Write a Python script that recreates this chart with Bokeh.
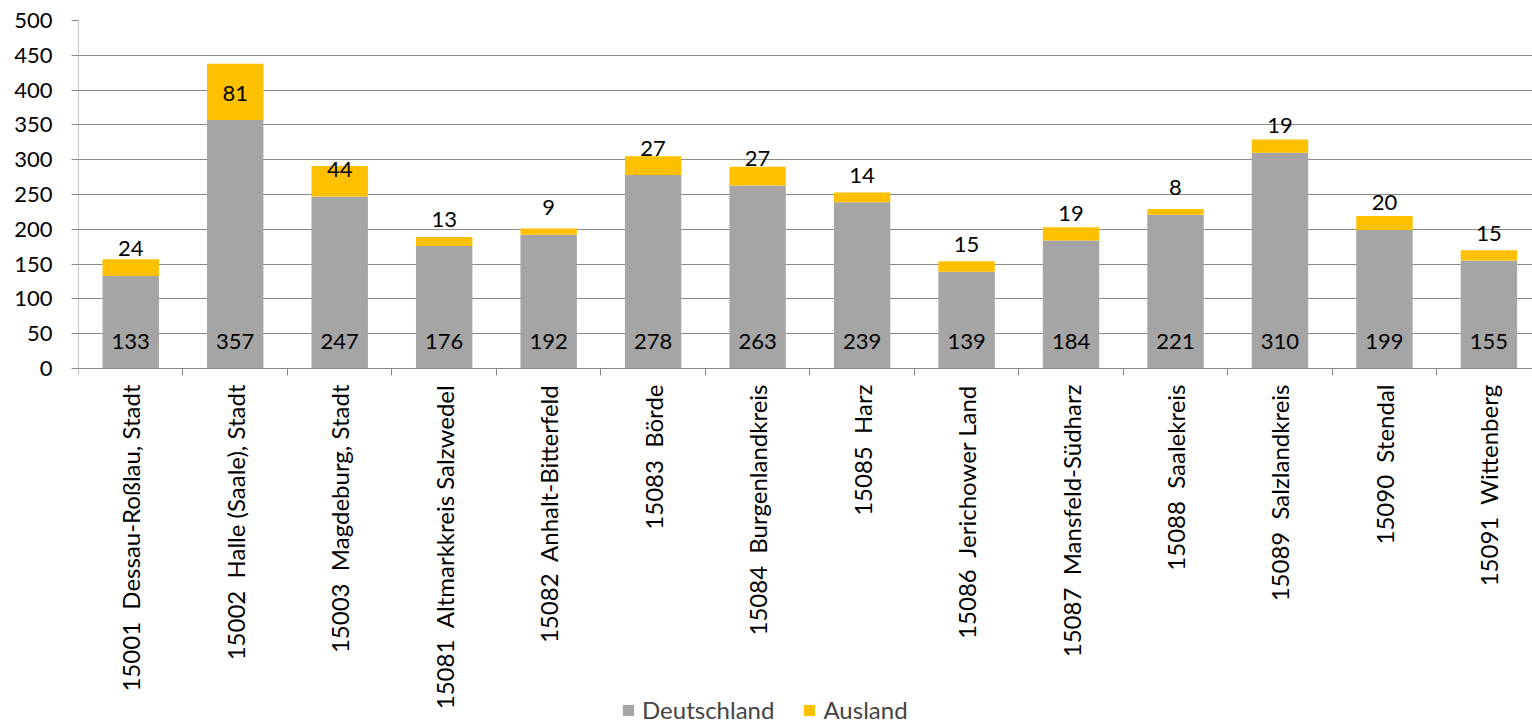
import math
from bokeh.plotting import figure
from bokeh.models import (Range1d, FixedTicker, Legend, LegendItem, ColumnDataSource)
from bokeh.core.properties import value
from bokeh.embed import file_html
from bokeh.resources import INLINE

# ---- data ----
categories = [
    "15001\u00a0 Dessau-Roßlau, Stadt",
    "15002\u00a0 Halle (Saale), Stadt",
    "15003\u00a0 Magdeburg, Stadt",
    "15081\u00a0 Altmarkkreis Salzwedel",
    "15082\u00a0 Anhalt-Bitterfeld",
    "15083\u00a0 Börde",
    "15084\u00a0 Burgenlandkreis",
    "15085\u00a0 Harz",
    "15086\u00a0 Jerichower Land",
    "15087\u00a0 Mansfeld-Südharz",
    "15088\u00a0 Saalekreis",
    "15089\u00a0 Salzlandkreis",
    "15090\u00a0 Stendal",
    "15091\u00a0 Wittenberg",
]
deutschland = [133, 357, 247, 176, 192, 278, 263, 239, 139, 184, 221, 310, 199, 155]
ausland = [24, 81, 44, 13, 9, 27, 27, 14, 15, 19, 8, 19, 20, 15]
y_ticks = [0, 50, 100, 150, 200, 250, 300, 350, 400, 450, 500]

FONT = "Lato"
GRAY = "#A5A5A5"
YELLOW = "#FFC000"
GRID = "#8A8A8A"

n = len(categories)
centers = [i + 0.5 for i in range(n)]
bounds = list(range(n + 1))
totals = [d + a for d, a in zip(deutschland, ausland)]

# plot area: value axis occupies the top 348 px of a 704 px frame;
# the lower part of the frame holds the category labels and the legend
PLOT_PX, FRAME_PX = 348, 704
y_top = y_ticks[-1]
y_bottom = -y_top * (FRAME_PX - PLOT_PX) / PLOT_PX

p = figure(
    frame_width=1454, frame_height=FRAME_PX,
    x_range=Range1d(0, 13.917), y_range=Range1d(y_bottom, y_top),
    output_backend="svg", toolbar_location=None,
    min_border_left=78, min_border_right=0, min_border_top=20, min_border_bottom=0,
)
p.outline_line_color = None
p.background_fill_color = "white"
p.border_fill_color = "white"

src = ColumnDataSource(dict(
    x=centers, d=deutschland, a=ausland, t=totals, zero=[0] * n,
    dl=[str(v) for v in deutschland], al=[str(v) for v in ausland],
))

# grid
p.xgrid.grid_line_color = None
p.ygrid.ticker = FixedTicker(ticks=y_ticks)
p.ygrid.grid_line_color = GRID
p.ygrid.grid_line_width = 1

r1 = p.vbar(x="x", bottom="zero", top="d", width=0.54, source=src,
            fill_color=GRAY, line_color=None)
r2 = p.vbar(x="x", bottom="d", top="t", width=0.54, source=src,
            fill_color=YELLOW, line_color=None)

p.text(x="x", y="zero", text="dl", source=src, text_align="center",
       text_baseline="middle", y_offset=-27, text_font=value(FONT),
       text_font_size="22px", text_color="black")
p.text(x="x", y="d", text="al", source=src, text_align="center",
       text_baseline="middle", y_offset=-27, text_font=value(FONT),
       text_font_size="22px", text_color="black")

# vertical value-axis line, only over the value span
p.segment(x0=[0], y0=[y_ticks[0]], x1=[0], y1=[y_top], line_color=GRID, line_width=1)

# y axis
p.yaxis.ticker = FixedTicker(ticks=y_ticks)
p.yaxis.axis_line_color = None
p.yaxis.major_tick_line_color = GRID
p.yaxis.major_tick_out = 7
p.yaxis.major_tick_in = 0
p.yaxis.minor_tick_line_color = None
p.yaxis.major_label_standoff = 19
p.yaxis.major_label_text_font = FONT
p.yaxis.major_label_text_font_size = "22px"
p.yaxis.major_label_text_color = "black"

# x axis drawn at value 0
p.xaxis.fixed_location = 0
p.xaxis.ticker = FixedTicker(ticks=centers, minor_ticks=bounds)
p.xaxis.major_label_overrides = {c: lab for c, lab in zip(centers, categories)}
p.xaxis.axis_line_color = GRID
p.xaxis.major_tick_line_color = None
p.xaxis.major_tick_out = 0
p.xaxis.major_tick_in = 0
p.xaxis.minor_tick_line_color = GRID
p.xaxis.minor_tick_out = 7
p.xaxis.minor_tick_in = 0
p.xaxis.major_label_orientation = math.pi / 2
p.xaxis.major_label_standoff = 9
p.xaxis.major_label_text_font = FONT
p.xaxis.major_label_text_font_size = "24px"
p.xaxis.major_label_text_color = "black"

legend = Legend(
    items=[LegendItem(label="Deutschland", renderers=[r1]),
           LegendItem(label="Ausland", renderers=[r2])],
    orientation="horizontal", location=(543, 0),
    label_text_font=FONT, label_text_font_size="24px",
    label_height=20, glyph_width=14, glyph_height=14, label_standoff=7, spacing=28,
    border_line_color=None, background_fill_alpha=0, padding=0, margin=0,
)
p.add_layout(legend, "center")

open("out.html", "w").write(file_html(p, INLINE))
